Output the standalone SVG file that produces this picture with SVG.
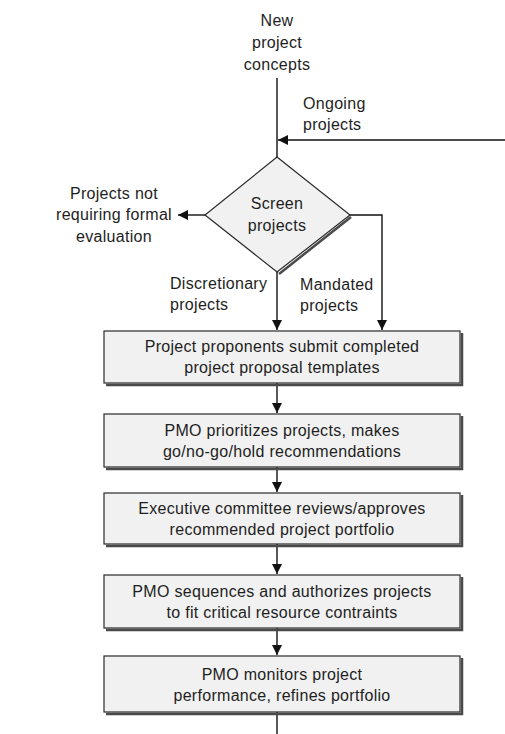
<svg xmlns="http://www.w3.org/2000/svg" width="505" height="734" viewBox="0 0 505 734">
<style>
text{font-family:"Liberation Sans",Arial,sans-serif;font-size:16px;fill:#1e1e1e;letter-spacing:0.3px}
.c{text-anchor:middle}
.shape{fill:#f1f1f1;stroke:#2a2a2a;stroke-width:1.2}
.shadow{fill:none;stroke:#4a4a4a;stroke-width:2.5}
.ln{fill:none;stroke:#111;stroke-width:1.4}
</style>
<defs>
<marker id="ah" viewBox="0 0 10 10" refX="10" refY="5" markerWidth="10" markerHeight="10" markerUnits="userSpaceOnUse" orient="auto">
<path d="M0,0 L10,5 L0,10 Z" fill="#111"/>
</marker>
</defs>
<rect width="505" height="734" fill="#fff"/>
<g id="connectors">
<line class="ln" x1="277" y1="78" x2="277" y2="157"/>
<line class="ln" x1="505" y1="140" x2="278" y2="140" marker-end="url(#ah)"/>
<line class="ln" x1="205" y1="215" x2="178" y2="215" marker-end="url(#ah)"/>
<polyline class="ln" points="350,215 382,215 382,330" marker-end="url(#ah)"/>
<line class="ln" x1="277" y1="272" x2="277" y2="330" marker-end="url(#ah)"/>
<line class="ln" x1="277" y1="383" x2="277" y2="413" marker-end="url(#ah)"/>
<line class="ln" x1="277" y1="467" x2="277" y2="492" marker-end="url(#ah)"/>
<line class="ln" x1="277" y1="544" x2="277" y2="574" marker-end="url(#ah)"/>
<line class="ln" x1="277" y1="628" x2="277" y2="655" marker-end="url(#ah)"/>
<line class="ln" x1="277" y1="712" x2="277" y2="734"/>
</g>
<g id="label-new">
<text class="c" x="277" y="26">New</text>
<text class="c" x="277" y="48">project</text>
<text class="c" x="277" y="70">concepts</text>
</g>
<g id="label-ongoing">
<text x="303" y="109">Ongoing</text>
<text x="303" y="130">projects</text>
</g>
<g id="screen">
<polyline class="shadow" points="351,217 279,274 "/>
<polygon class="shape" points="277,157 350,215 277,272 205,215"/>
<text class="c" x="277" y="209">Screen</text>
<text class="c" x="277" y="231">projects</text>
</g>
<g id="label-notformal">
<text class="c" x="114" y="199">Projects not</text>
<text class="c" x="114" y="220">requiring formal</text>
<text class="c" x="114" y="242">evaluation</text>
</g>
<g id="label-discretionary">
<text x="170" y="289">Discretionary</text>
<text x="170" y="310">projects</text>
</g>
<g id="label-mandated">
<text x="300" y="290">Mandated</text>
<text x="300" y="311">projects</text>
</g>
<g id="box1">
<polyline class="shadow" points="462,333 462,385 106,385"/>
<rect class="shape" x="104" y="331" width="356" height="52"/>
<text class="c" x="282" y="352">Project proponents submit completed</text>
<text class="c" x="282" y="373">project proposal templates</text>
</g>
<g id="box2">
<polyline class="shadow" points="462,416 462,469 106,469"/>
<rect class="shape" x="104" y="414" width="356" height="53"/>
<text class="c" x="282" y="436">PMO prioritizes projects, makes</text>
<text class="c" x="282" y="457">go/no-go/hold recommendations</text>
</g>
<g id="box3">
<polyline class="shadow" points="462,495 462,546 106,546"/>
<rect class="shape" x="104" y="493" width="356" height="51"/>
<text class="c" x="282" y="514">Executive committee reviews/approves</text>
<text class="c" x="282" y="535">recommended project portfolio</text>
</g>
<g id="box4">
<polyline class="shadow" points="462,577 462,630 106,630"/>
<rect class="shape" x="104" y="575" width="356" height="53"/>
<text class="c" x="282" y="597">PMO sequences and authorizes projects</text>
<text class="c" x="282" y="618">to fit critical resource contraints</text>
</g>
<g id="box5">
<polyline class="shadow" points="462,658 462,714 106,714"/>
<rect class="shape" x="104" y="656" width="356" height="56"/>
<text class="c" x="282" y="680">PMO monitors project</text>
<text class="c" x="282" y="701">performance, refines portfolio</text>
</g>
</svg>
